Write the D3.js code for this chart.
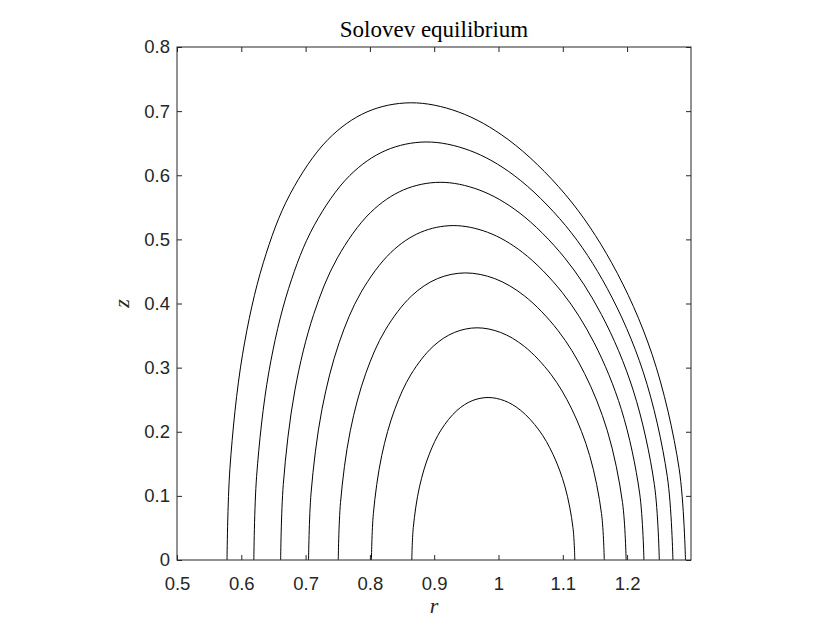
<!DOCTYPE html>
<html>
<head>
<meta charset="utf-8">
<script src="https://cdn.jsdelivr.net/npm/d3@7"></script>
<style>
  html, body { margin: 0; padding: 0; background: #ffffff; }
  svg { display: block; }
</style>
</head>
<body>
<script>
// ---- Data ----
const titleText = "Solovev equilibrium";
const xLabelText = "r";
const yLabelText = "z";
const xTicks = [0.5, 0.6, 0.7, 0.8, 0.9, 1.0, 1.1, 1.2];
const yTicks = [0, 0.1, 0.2, 0.3, 0.4, 0.5, 0.6, 0.7, 0.8];
const xDomain = [0.5, 1.2994];
const yDomain = [0, 0.8];

// contour lines, outermost to innermost, as [r, z] points
const contour1 = [[0.5778,0],[0.5823,0.1426],[0.6020,0.3209],[0.6342,0.4635],[0.6758,0.5704],[0.7351,0.6560],[0.7955,0.6988],[0.8636,0.7130],[0.9375,0.6988],[1.0146,0.6560],[1.1036,0.5704],[1.1760,0.4635],[1.2388,0.3209],[1.2809,0.1426],[1.2908,0]];
const contour2 = [[0.6195,0],[0.6238,0.1304],[0.6429,0.2934],[0.6737,0.4237],[0.7132,0.5215],[0.7688,0.5997],[0.8249,0.6388],[0.8874,0.6519],[0.9547,0.6388],[1.0243,0.5997],[1.1043,0.5215],[1.1690,0.4237],[1.2250,0.2934],[1.2625,0.1304],[1.2713,0]];
const contour3 = [[0.6612,0],[0.6653,0.1178],[0.6834,0.2650],[0.7125,0.3828],[0.7495,0.4712],[0.8010,0.5419],[0.8524,0.5772],[0.9092,0.5890],[0.9696,0.5772],[1.0319,0.5419],[1.1029,0.4712],[1.1601,0.3828],[1.2094,0.2650],[1.2424,0.1178],[1.2501,0]];
const contour4 = [[0.7046,0],[0.7085,0.1043],[0.7254,0.2347],[0.7522,0.3390],[0.7861,0.4172],[0.8329,0.4798],[0.8791,0.5111],[0.9295,0.5215],[0.9829,0.5111],[1.0373,0.4798],[1.0991,0.4172],[1.1486,0.3390],[1.1911,0.2347],[1.2195,0.1043],[1.2262,0]];
const contour5 = [[0.7508,0],[0.7543,0.0895],[0.7695,0.2015],[0.7936,0.2910],[0.8237,0.3582],[0.8649,0.4119],[0.9051,0.4388],[0.9486,0.4477],[0.9942,0.4388],[1.0403,0.4119],[1.0923,0.3582],[1.1338,0.2910],[1.1693,0.2015],[1.1929,0.0895],[1.1985,0]];
const contour6 = [[0.8024,0],[0.8054,0.0724],[0.8184,0.1629],[0.8388,0.2353],[0.8641,0.2897],[0.8983,0.3331],[0.9313,0.3548],[0.9667,0.3621],[1.0034,0.3548],[1.0402,0.3331],[1.0814,0.2897],[1.1140,0.2353],[1.1418,0.1629],[1.1602,0.0724],[1.1645,0]];
const contour7 = [[0.8652,0],[0.8675,0.0507],[0.8771,0.1140],[0.8922,0.1647],[0.9107,0.2028],[0.9354,0.2332],[0.9590,0.2484],[0.9838,0.2534],[1.0092,0.2484],[1.0347,0.2332],[1.0628,0.2028],[1.0848,0.1647],[1.1035,0.1140],[1.1158,0.0507],[1.1187,0]];

const contours = [contour1, contour2, contour3, contour4, contour5, contour6, contour7];

// ---- Layout ----
const W = 840, H = 630;
const plot = { left: 177, right: 691, top: 47, bottom: 560 };
const axisColor = "#262626";
const tickFont = "'Liberation Sans', Arial, Helvetica, sans-serif";
const serifFont = "'Liberation Serif', 'Times New Roman', serif";

const svg = d3.select("body").append("svg")
  .attr("width", W).attr("height", H)
  .attr("viewBox", `0 0 ${W} ${H}`);

svg.append("rect").attr("width", W).attr("height", H).attr("fill", "#ffffff");

const x = d3.scaleLinear().domain(xDomain).range([plot.left, plot.right]);
const y = d3.scaleLinear().domain(yDomain).range([plot.bottom, plot.top]);

// clip
svg.append("clipPath").attr("id", "plotclip")
  .append("rect")
  .attr("x", plot.left).attr("y", plot.top)
  .attr("width", plot.right - plot.left).attr("height", plot.bottom - plot.top);

// contours
const line = d3.line()
  .x(d => x(d[0]))
  .y(d => y(d[1]))
  .curve(d3.curveCatmullRom.alpha(0.5));

svg.append("g").attr("clip-path", "url(#plotclip)")
  .selectAll("path")
  .data(contours)
  .join("path")
  .attr("d", line)
  .attr("fill", "none")
  .attr("stroke", "#000000")
  .attr("stroke-width", 1);

// axes
const tickLen = 5;
function styleAxis(g) {
  g.select(".domain").remove();
  g.selectAll(".tick line").attr("stroke", axisColor).attr("stroke-width", 1);
  g.selectAll(".tick text")
    .attr("fill", axisColor)
    .style("font-family", tickFont)
    .style("font-size", "18.5px");
}

svg.append("g")
  .attr("transform", `translate(0,${plot.bottom})`)
  .call(d3.axisBottom(x).tickValues(xTicks).tickSize(-tickLen).tickPadding(17)
        .tickFormat(d3.format("~g")))
  .call(styleAxis);

svg.append("g")
  .attr("transform", `translate(0,${plot.top})`)
  .call(d3.axisTop(x).tickValues(xTicks).tickSize(-tickLen).tickFormat(""))
  .call(styleAxis);

svg.append("g")
  .attr("transform", `translate(${plot.left},0)`)
  .call(d3.axisLeft(y).tickValues(yTicks).tickSize(-tickLen).tickPadding(7)
        .tickFormat(d3.format("~g")))
  .call(styleAxis);

svg.append("g")
  .attr("transform", `translate(${plot.right},0)`)
  .call(d3.axisRight(y).tickValues(yTicks).tickSize(-tickLen).tickFormat(""))
  .call(styleAxis);

// box
svg.append("rect")
  .attr("x", plot.left).attr("y", plot.top)
  .attr("width", plot.right - plot.left).attr("height", plot.bottom - plot.top)
  .attr("fill", "none")
  .attr("stroke", axisColor)
  .attr("stroke-width", 1);

// title
svg.append("text")
  .attr("x", (plot.left + plot.right) / 2)
  .attr("y", 37)
  .attr("text-anchor", "middle")
  .style("font-family", serifFont)
  .style("font-size", "23px")
  .attr("fill", "#000000")
  .text(titleText);

// x label
svg.append("text")
  .attr("x", (plot.left + plot.right) / 2)
  .attr("y", 613)
  .attr("text-anchor", "middle")
  .style("font-family", serifFont)
  .style("font-style", "italic")
  .style("font-size", "22px")
  .attr("fill", axisColor)
  .text(xLabelText);

// y label
svg.append("text")
  .attr("transform", `translate(128.5,${(plot.top + plot.bottom) / 2}) rotate(-90)`)
  .attr("text-anchor", "middle")
  .style("font-family", serifFont)
  .style("font-style", "italic")
  .style("font-size", "22px")
  .attr("fill", axisColor)
  .text(yLabelText);
</script>
</body>
</html>
